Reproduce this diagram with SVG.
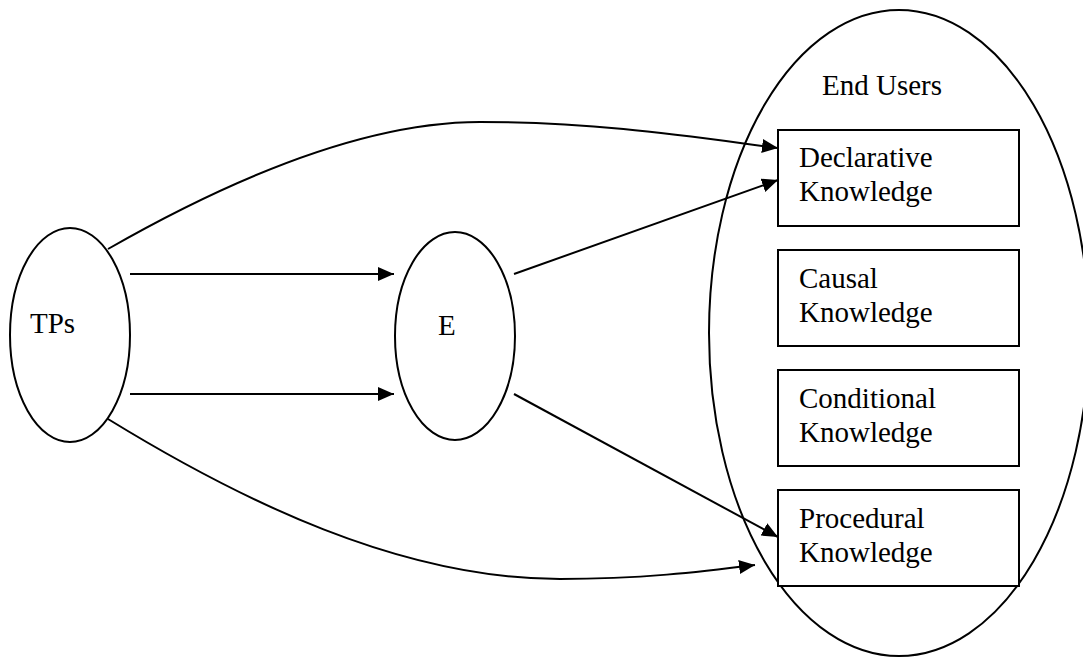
<svg xmlns="http://www.w3.org/2000/svg" width="1083" height="657" viewBox="0 0 1083 657">
  <style>
    .shape { fill: none; stroke: #000; stroke-width: 2; }
    .box { fill: #fff; stroke: #000; stroke-width: 2; }
    .edge { fill: none; stroke: #000; stroke-width: 2; }
    .label { font-family: "Liberation Serif", "Times New Roman", serif; font-size: 29px; fill: #000; }
  </style>
  <defs>
    <marker id="arrow" markerUnits="userSpaceOnUse" markerWidth="16" markerHeight="14" refX="16" refY="7" orient="auto">
      <path d="M0,0 L16,7 L0,14 z" fill="#000"/>
    </marker>
  </defs>
  <rect x="0" y="0" width="1083" height="657" fill="#fff"/>

  <!-- End users container -->
  <g id="end-users">
    <ellipse class="shape" cx="899" cy="333" rx="190" ry="323"/>
    <text class="label" x="822" y="95">End Users</text>
  </g>

  <g id="tps">
    <ellipse class="shape" cx="70" cy="335" rx="60" ry="107"/>
    <text class="label" x="30" y="333">TPs</text>
  </g>

  <g id="e">
    <ellipse class="shape" cx="455" cy="336" rx="60" ry="104"/>
    <text class="label" x="438" y="335">E</text>
  </g>

  <g id="declarative">
    <rect class="box" x="778" y="130" width="241" height="96"/>
    <text class="label" x="799" y="167">Declarative</text>
    <text class="label" x="799" y="201">Knowledge</text>
  </g>

  <g id="causal">
    <rect class="box" x="778" y="250" width="241" height="96"/>
    <text class="label" x="799" y="288">Causal</text>
    <text class="label" x="799" y="322">Knowledge</text>
  </g>

  <g id="conditional">
    <rect class="box" x="778" y="370" width="241" height="96"/>
    <text class="label" x="799" y="408">Conditional</text>
    <text class="label" x="799" y="442">Knowledge</text>
  </g>

  <g id="procedural">
    <rect class="box" x="778" y="490" width="241" height="96"/>
    <text class="label" x="799" y="528">Procedural</text>
    <text class="label" x="799" y="562">Knowledge</text>
  </g>

  <g id="connectors">
    <path class="edge" d="M108,249 C220,185 360,122 480,122 C600,122 700,138 778,148" marker-end="url(#arrow)"/>
    <path class="edge" d="M130,274 L394,274" marker-end="url(#arrow)"/>
    <path class="edge" d="M130,394 L394,394" marker-end="url(#arrow)"/>
    <path class="edge" d="M514,274 L778,180" marker-end="url(#arrow)"/>
    <path class="edge" d="M514,394 L778,537" marker-end="url(#arrow)"/>
    <path class="edge" d="M108,419 C240,500 400,579 560,579 C640,579 700,572 755,565" marker-end="url(#arrow)"/>
  </g>
</svg>
